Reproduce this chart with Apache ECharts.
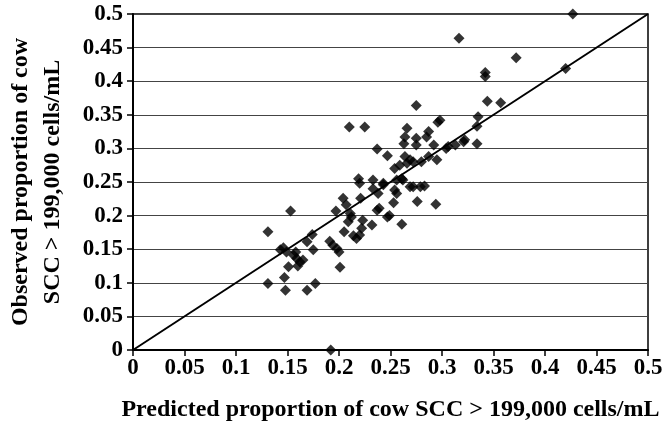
<!DOCTYPE html>
<html>
<head>
<meta charset="utf-8">
<script src="https://cdn.jsdelivr.net/npm/echarts@6/dist/echarts.min.js"></script>
<style>
  html, body { margin: 0; padding: 0; background: #fff; }
  #chart { width: 668px; height: 428px; }
</style>
</head>
<body>
<div id="chart"></div>
<script>
// predicted vs observed proportion
var predicted = [
  0.131, 0.131, 0.143, 0.146, 0.149, 0.147, 0.148, 0.151, 0.153,
  0.156, 0.159, 0.162, 0.160, 0.165, 0.158,
  0.169, 0.174, 0.175, 0.169, 0.177,
  0.191, 0.194, 0.198, 0.200, 0.201, 0.192,
  0.197, 0.204, 0.205, 0.209, 0.211, 0.212, 0.207, 0.214,
  0.217, 0.220, 0.222, 0.223, 0.221, 0.219, 0.220,
  0.210, 0.225,
  0.232, 0.233, 0.238, 0.237, 0.239, 0.233, 0.243, 0.247,
  0.237, 0.247, 0.243, 0.249,
  0.254, 0.256, 0.262, 0.261, 0.256, 0.254, 0.259,
  0.272, 0.279, 0.283, 0.269,
  0.253, 0.276, 0.294, 0.261,
  0.264, 0.269, 0.272, 0.280, 0.287, 0.295, 0.266,
  0.275, 0.296, 0.298, 0.266, 0.287, 0.285, 0.264, 0.275, 0.263, 0.275, 0.292,
  0.306, 0.304, 0.313, 0.322, 0.321, 0.334, 0.334, 0.335,
  0.3165, 0.342, 0.342, 0.344, 0.357, 0.372, 0.420, 0.427
];
var observed = [
  0.176, 0.099, 0.149, 0.152, 0.146, 0.108, 0.089, 0.124, 0.207,
  0.141, 0.136, 0.131, 0.125, 0.134, 0.146,
  0.161, 0.172, 0.149, 0.089, 0.099,
  0.162, 0.156, 0.151, 0.146, 0.123, 0.000,
  0.207, 0.226, 0.176, 0.191, 0.203, 0.198, 0.216, 0.170,
  0.166, 0.171, 0.181, 0.193, 0.226, 0.255, 0.248,
  0.332, 0.332,
  0.186, 0.253, 0.233, 0.208, 0.211, 0.240, 0.246, 0.198,
  0.299, 0.289, 0.248, 0.200,
  0.238, 0.233, 0.253, 0.255, 0.253, 0.270, 0.275,
  0.243, 0.243, 0.244, 0.243,
  0.219, 0.221, 0.217, 0.187,
  0.288, 0.283, 0.280, 0.280, 0.288, 0.283, 0.278,
  0.364, 0.339, 0.342, 0.330, 0.325, 0.317, 0.317, 0.315, 0.307, 0.305, 0.305,
  0.303, 0.300, 0.305, 0.313, 0.310, 0.307, 0.333, 0.347,
  0.464, 0.413, 0.407, 0.370, 0.368, 0.435, 0.419, 0.500
];
// 1:1 reference line
var lineX = [0, 0.5];
var lineY = [0, 0.5];

var xTitle = 'Predicted proportion of cow SCC > 199,000 cells/mL';
var yTitle = 'Observed proportion of cow\nSCC > 199,000 cells/mL';

var points = predicted.map(function (x, i) { return [x, observed[i]]; });
var diag = lineX.map(function (x, i) { return [x, lineY[i]]; });

var font = "'Liberation Serif', 'Times New Roman', serif";

var chart = echarts.init(document.getElementById('chart'), null, { renderer: 'canvas' });
var option = {
    backgroundColor: '#fff',
    animation: false,
    grid: {
        left: 133, right: 20, top: 14, bottom: 78,
        outerBoundsMode: 'none',
        show: true,
        borderColor: '#000',
        borderWidth: 1.5
    },
    xAxis: {
        type: 'value',
        min: 0, max: 0.5, interval: 0.05,
        name: xTitle,
        nameLocation: 'middle',
        nameGap: 48,
        nameTextStyle: { fontFamily: font, fontWeight: 'bold', fontSize: 24, color: '#000' },
        axisLine: { show: true, lineStyle: { color: '#000', width: 2 } },
        axisTick: { show: true, length: 6, lineStyle: { color: '#000', width: 1.5 } },
        axisLabel: { fontFamily: font, fontWeight: 'bold', fontSize: 23, color: '#000', margin: 7 },
        splitLine: { show: false }
    },
    yAxis: {
        type: 'value',
        min: 0, max: 0.5, interval: 0.05,
        name: yTitle,
        nameLocation: 'middle',
        nameGap: 64,
        nameRotate: 90,
        nameTextStyle: { fontFamily: font, fontWeight: 'bold', fontSize: 24, color: '#000', lineHeight: 32 },
        axisLine: { show: true, lineStyle: { color: '#000', width: 2 } },
        axisTick: { show: true, length: 6, lineStyle: { color: '#000', width: 1.5 } },
        axisLabel: { fontFamily: font, fontWeight: 'bold', fontSize: 23, color: '#000', margin: 10 },
        splitLine: { show: true, lineStyle: { color: '#444', width: 1.2 } }
    },
    series: [
        {
            name: '1:1',
            type: 'line',
            data: diag,
            symbol: 'none',
            lineStyle: { color: '#000', width: 2 },
            z: 2
        },
        {
            name: 'cows',
            type: 'scatter',
            data: points,
            symbol: 'diamond',
            symbolSize: 11,
            itemStyle: { color: '#000' },
            z: 3
        }
    ]
};
chart.setOption(option);
</script>
</body>
</html>
